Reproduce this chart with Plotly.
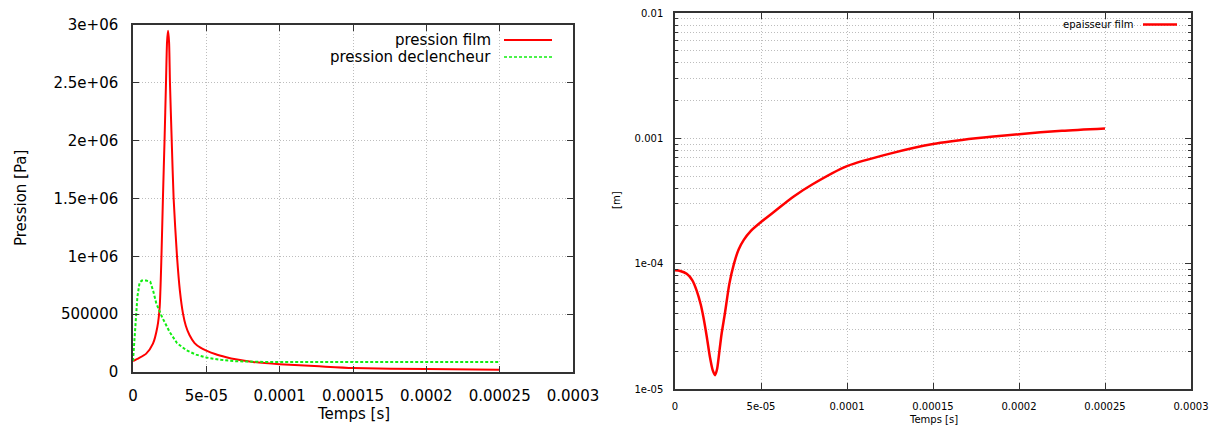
import plotly.graph_objects as go

# ---- data ----
t_film = [0, 4e-6, 9e-6, 1.36e-5, 1.66e-5, 1.82e-5, 1.94e-5, 2.04e-5, 2.15e-5, 2.25e-5,
          2.32e-5, 2.39e-5, 2.46e-5, 2.52e-5, 2.64e-5, 2.77e-5, 3.0e-5, 3.2e-5, 3.41e-5,
          3.6e-5, 3.85e-5, 4.2e-5, 4.6e-5, 5e-5, 5.6e-5, 6.36e-5, 7e-5, 8.18e-5, 1e-4,
          1.27e-4, 1.5e-4, 2e-4, 2.5e-4]
p_film = [95000, 120000, 159000, 245000, 389000, 562000, 1.0e6, 1.5e6, 2.0e6, 2.5e6,
          2.85e6, 2.95e6, 2.85e6, 2.5e6, 2.0e6, 1.5e6, 1.0e6, 700000, 505000,
          400000, 320000, 250000, 210000, 185000, 155000, 128000, 110000, 86500, 66600,
          49000, 35000, 25000, 20000]

t_decl = [0, 1.5e-6, 3e-6, 4.5e-6, 6e-6, 9e-6, 1.18e-5, 1.4e-5, 1.59e-5, 2e-5, 2.5e-5,
          3e-5, 3.64e-5, 4.3e-5, 5e-5, 6e-5, 7.05e-5, 8.5e-5, 1e-4, 1.5e-4, 2e-4, 2.5e-4]
p_decl = [95000, 380000, 650000, 775000, 790000, 790000, 780000, 690000, 592000, 470000,
          346000, 250000, 188000, 150000, 125000, 105000, 93000, 88000, 86000, 86000,
          86000, 86000]

t_ep = [0, 3e-6, 6.8e-6, 1e-5, 1.26e-5, 1.5e-5, 1.65e-5, 1.85e-5, 2.03e-5, 2.2e-5, 2.33e-5,
        2.45e-5, 2.6e-5, 2.71e-5, 2.9e-5, 3.16e-5, 3.43e-5, 3.7e-5, 4.0e-5, 4.4e-5, 5.0e-5,
        5.8e-5, 6.88e-5, 8.0e-5, 1.0e-4, 1.25e-4, 1.5e-4, 1.75e-4, 2.0e-4, 2.25e-4, 2.5e-4]
h_ep = [8.85e-5, 8.75e-5, 8.3e-5, 7.4e-5, 6.1e-5, 4.7e-5, 3.75e-5, 2.6e-5, 1.8e-5, 1.4e-5,
        1.29e-5, 1.45e-5, 2.1e-5, 2.76e-5, 4.0e-5, 6.9e-5, 1.0e-4, 1.3e-4, 1.55e-4,
        1.82e-4, 2.15e-4, 2.62e-4, 3.42e-4, 4.3e-4, 6.0e-4, 7.55e-4, 9.0e-4, 1.0e-3,
        1.08e-3, 1.15e-3, 1.2e-3]

x_ticks = [0, 5e-5, 1e-4, 1.5e-4, 2e-4, 2.5e-4, 3e-4]
x_ticktext = ["0", "5e-05", "0.0001", "0.00015", "0.0002", "0.00025", "0.0003"]
p_ticks = [0, 5e5, 1e6, 1.5e6, 2e6, 2.5e6, 3e6]
p_ticktext = ["0", "500000", "1e+06", "1.5e+06", "2e+06", "2.5e+06", "3e+06"]
h_ticks = [1e-5, 1e-4, 1e-3, 1e-2]
h_ticktext = ["1e-05", "1e-04", "0.001", "0.01"]
h_minor = [k * 10.0 ** e for e in (-5, -4, -3) for k in range(2, 10)]

RED = "#ff0000"
GREEN = "#11ee11"
FRAME = "#333333"
GRID = "#bdbdbd"
GRIDDASH = "1px,2px"
FONT = "DejaVu Sans"

# page has an 8px body margin: figure is sized so it fits the 1219x428 window
OFF = 8
FW, FH = 1219 - OFF, 428 - OFF


def xp(X):
    return (X - OFF) / FW


def yp(Y):
    return 1 - (Y - OFF) / FH


fig = go.Figure()
fig.add_trace(go.Scatter(x=t_film, y=p_film, mode="lines", name="pression film",
                         line=dict(color=RED, width=2, shape="spline", smoothing=0.6),
                         xaxis="x", yaxis="y", showlegend=False))
fig.add_trace(go.Scatter(x=t_decl, y=p_decl, mode="lines", name="pression declencheur",
                         line=dict(color=GREEN, width=2, dash="3px,2px"), xaxis="x",
                         yaxis="y", showlegend=False))
fig.add_trace(go.Scatter(x=t_ep, y=h_ep, mode="lines", name="epaisseur film",
                         line=dict(color=RED, width=2.5, shape="spline", smoothing=0.7),
                         xaxis="x2", yaxis="y2", showlegend=False))

common = dict(showline=True, linecolor=FRAME, linewidth=1.5, mirror="ticks",
              ticks="inside", tickcolor=FRAME, showgrid=True, gridcolor=GRID,
              griddash=GRIDDASH, gridwidth=1, zeroline=False, automargin=False,
              tickmode="array", ticklabeloverflow="allow")

fig.update_layout(
    width=FW, height=FH, autosize=False,
    margin=dict(l=0, r=0, t=0, b=0),
    paper_bgcolor="white", plot_bgcolor="white",
    font=dict(family=FONT, color="black"),
    xaxis=dict(domain=[xp(133), xp(573)], anchor="y", range=[0, 3.00001e-4],
               tickvals=x_ticks, ticktext=x_ticktext, ticklen=6,
               tickfont=dict(size=15), ticklabelstandoff=9, **common),
    yaxis=dict(domain=[yp(372), yp(25)], anchor="x", range=[0, 3.00001e6],
               tickvals=p_ticks, ticktext=p_ticktext, ticklen=6,
               tickfont=dict(size=15), ticklabelstandoff=10, **common),
    xaxis2=dict(domain=[xp(675), xp(1191)], anchor="y2", range=[0, 3.00001e-4],
                tickvals=x_ticks, ticktext=x_ticktext, ticklen=6,
                tickfont=dict(size=10), ticklabelstandoff=7, **common),
    yaxis2=dict(domain=[yp(389), yp(13)], anchor="x2", type="log",
                range=[-5.00001, -1.99999],
                tickvals=h_ticks, ticktext=h_ticktext, ticklen=6,
                tickfont=dict(size=10), ticklabelstandoff=8,
                minor=dict(tickvals=h_minor, ticks="inside", ticklen=3,
                           tickcolor=FRAME, showgrid=True, gridcolor=GRID,
                           griddash=GRIDDASH, gridwidth=1),
                **common),
)

ann = [
    dict(text="Pression [Pa]", x=21, y=198, textangle=-90, size=15),
    dict(text="Temps [s]", x=353, y=414, textangle=0, size=15),
    dict(text="[m]", x=617, y=200, textangle=-90, size=10),
    dict(text="Temps [s]", x=933, y=419, textangle=0, size=10),
]
for a in ann:
    fig.add_annotation(text=a["text"], x=xp(a["x"]), y=yp(a["y"]), xref="paper",
                       yref="paper", showarrow=False, textangle=a["textangle"],
                       xanchor="center", yanchor="middle",
                       font=dict(family=FONT, size=a["size"], color="black"))

# gnuplot-style legends (text then sample line)
legend_items = [
    ("pression film", 492.5, 40, 504, 552, RED, 2, "solid", 15),
    ("pression declencheur", 492.5, 57, 504, 552, GREEN, 1.5, "3px,2px", 15),
    ("epaisseur film", 1135, 24.5, 1143, 1177, RED, 2.5, "solid", 10),
]
for txt, xr, yc, x0, x1, col, lw, dash, fs in legend_items:
    fig.add_annotation(text=txt, x=xp(xr), y=yp(yc), xref="paper", yref="paper",
                       showarrow=False, xanchor="right", yanchor="middle",
                       font=dict(family=FONT, size=fs, color="black"))
    fig.add_shape(type="line", xref="paper", yref="paper", x0=xp(x0), x1=xp(x1),
                  y0=yp(yc), y1=yp(yc), line=dict(color=col, width=lw, dash=dash))

fig.write_html("out.html")
